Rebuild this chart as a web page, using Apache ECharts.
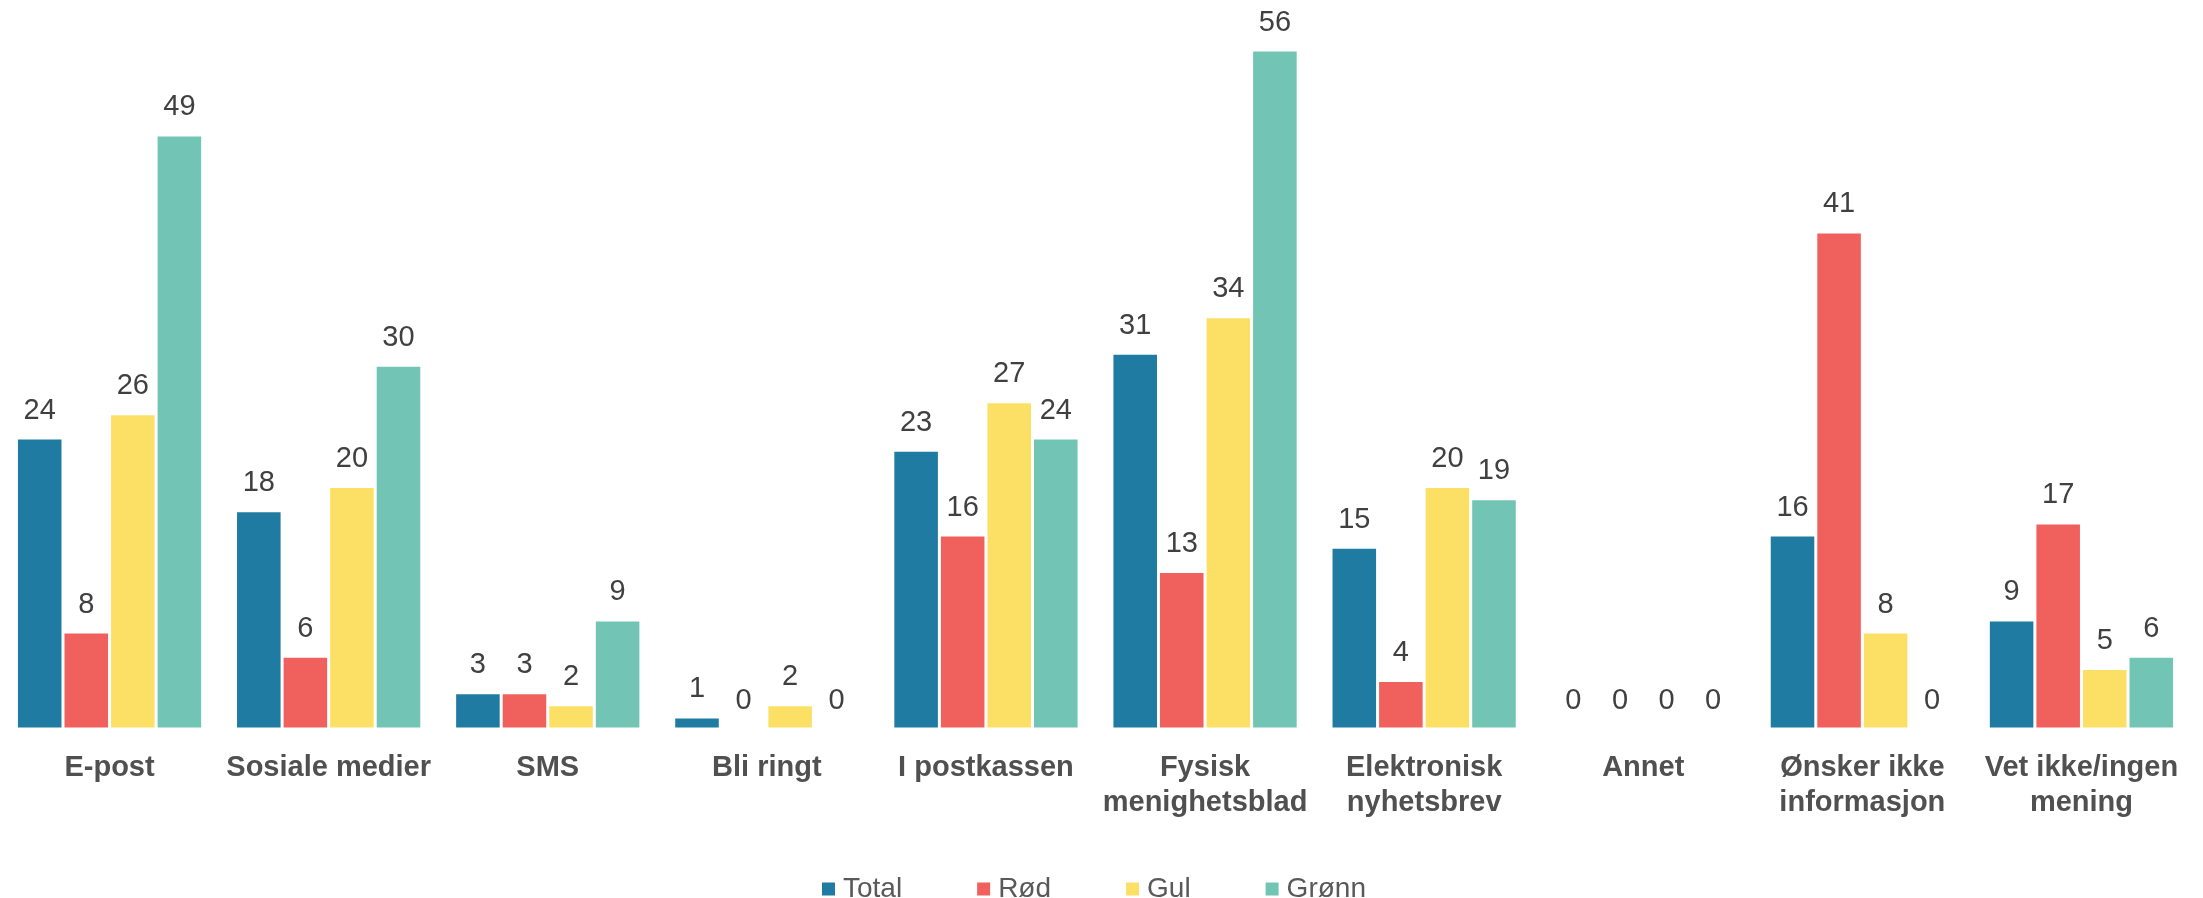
<!DOCTYPE html>
<html>
<head>
<meta charset="utf-8">
<script src="https://cdn.jsdelivr.net/npm/echarts@6/dist/echarts.min.js"></script>
<style>
html,body{margin:0;padding:0;background:#fff;}
#chart{width:2203px;height:898px;}
</style>
</head>
<body>
<div id="chart"></div>
<script>
const categories = ['E-post','Sosiale medier','SMS','Bli ringt','I postkassen','Fysisk\nmenighetsblad','Elektronisk\nnyhetsbrev','Annet','Ønsker ikke\ninformasjon','Vet ikke/ingen\nmening'];
const seriesNames = ['Total','Rød','Gul','Grønn'];
const total = [24,18,3,1,23,31,15,0,16,9];
const rod   = [8,6,3,0,16,13,4,0,41,17];
const gul   = [26,20,2,2,27,34,20,0,8,5];
const gronn = [49,30,9,0,24,56,19,0,0,6];
const colors = ['#1F7BA1','#F0605D','#FCE065','#72C4B4'];

const chart = echarts.init(document.getElementById('chart'), null, {renderer:'canvas'});
const dataSets = [total, rod, gul, gronn];
chart.setOption({
  animation:false,
  backgroundColor:'#fff',
  textStyle:{fontFamily:'Liberation Sans, Arial, sans-serif'},
  legend:{
    data:seriesNames,
    left:815, top:870,
    itemWidth:15, itemHeight:15, itemGap:73,
    icon:'rect',
    textStyle:{fontSize:28, color:'#595959', padding:[0,0,0,2]}
  },
  grid:{left:-3, right:12, top:50, bottom:169, containLabel:false},
  xAxis:{
    type:'category', data:categories,
    axisLine:{show:false}, axisTick:{show:false},
    axisLabel:{interval:0, fontSize:29, fontWeight:'bold', color:'#505050', lineHeight:35, margin:21}
  },
  yAxis:{type:'value', min:0, max:56, show:false, splitLine:{show:false}},
  series: seriesNames.map((n,i)=>({
    name:n, type:'bar', data:dataSets[i],
    barGap:'0%', barCategoryGap:'15%',
    itemStyle:{color:colors[i], borderColor:'#fff', borderWidth:1.5},
    label:{show:true, position:'top', distance:13, fontSize:29, color:'#404040'}
  }))
});
</script>
</body>
</html>
